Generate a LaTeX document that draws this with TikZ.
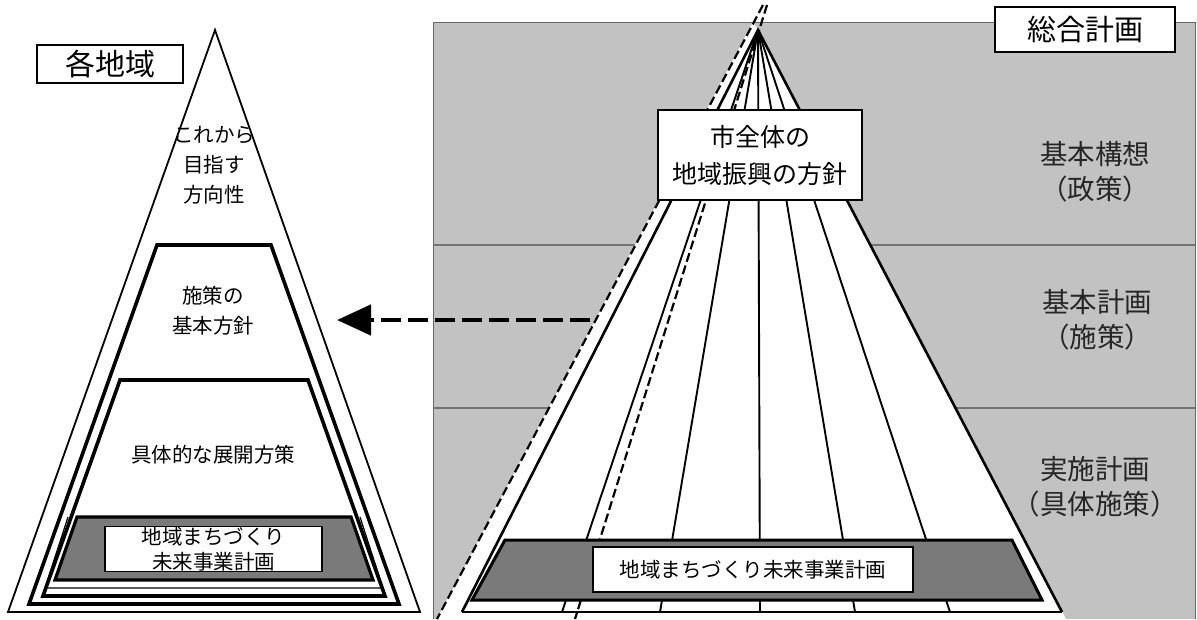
\documentclass[tikz,border=0pt]{standalone}
\usepackage{fontspec}
\setmainfont{Noto Sans CJK JP}
\usetikzlibrary{arrows.meta}
\definecolor{bggray}{gray}{0.76}
\definecolor{darkfill}{gray}{0.48}
\begin{document}
\begin{tikzpicture}[x=1pt,y=-1pt,
  thinedge/.style={line width=1.8pt, line join=miter},
  thickedge/.style={line width=3.6pt, line join=miter},
  fanline/.style={line width=1.9pt},
  dashline/.style={line width=2.2pt, dash pattern=on 9pt off 4pt},
  sepline/.style={line width=1.2pt, black!55},
  titlebox/.style={draw, line width=1.6pt, fill=white, inner sep=0pt},
  pyrtext/.style={align=center, font=\fontsize{20.5}{30}\selectfont},
  sidelabel/.style={align=center, text=black!85, font=\fontsize{27.5}{35}\selectfont},
  arrowline/.style={line width=4.5pt, dash pattern=on 20pt off 7pt, -{Triangle[length=34pt,width=30pt]}}
]
\useasboundingbox (0,0) rectangle (1197,619);

% ---------- right: background ----------
\fill[bggray] (433,22) rectangle (1195,619);
\draw[line width=1pt, black!60] (433,619) -- (433,22) -- (1195,22) -- (1195,619);
\draw[sepline] (433,245) -- (1195,245);
\draw[sepline] (433,408) -- (1195,408);

% key points of the right fan
\coordinate (apexR) at (758,30);
\coordinate (bL) at (462,612);
\coordinate (bR) at (1062,612);
\coordinate (f1) at (562,612);
\coordinate (f2) at (660,612);
\coordinate (f3) at (760,612);
\coordinate (f4) at (855,612);
\coordinate (f5) at (950,612);
\coordinate (dAt) at (763,5);
\coordinate (dAb) at (437,619);
\coordinate (dBt) at (767,5);
\coordinate (dBb) at (575,619);

% white interior
\fill[white] (753,22) -- (dAb) -- (1066,619) -- (apexR) -- cycle;

% fan lines
\foreach \p in {f1,f2,f3,f4,f5} \draw[fanline] (apexR) -- (\p);
\draw[line width=2.6pt, line join=miter] (bL) -- (apexR) -- (bR);
\draw[line width=1.5pt] (bL) -- (bR);
\draw[dashline] (dAt) -- (dAb);
\draw[dashline] (dBt) -- (dBb);

% dark trapezoid (right)
\filldraw[fill=darkfill, draw=black, line width=3pt, line join=miter]
  (505,540) -- (1012,540) -- (1042,600) -- (472,600) -- cycle;
\node[draw, line width=2.4pt, fill=white, minimum width=320pt, minimum height=45pt,
  inner sep=0pt, font=\fontsize{20.5}{24}\selectfont] (planR) at (753,569.5) {地域まちづくり未来事業計画};

% city box
\node[draw, line width=1.8pt, fill=white, minimum width=204pt, minimum height=90pt,
  inner sep=0pt, align=center, font=\fontsize{25}{37}\selectfont] (city) at (760,155) {市全体の\\地域振興の方針};

% right labels
\node[titlebox, minimum width=180pt, minimum height=45pt, font=\fontsize{29}{32}\selectfont] (sogo) at (1085,29.5) {総合計画};
\node[sidelabel] (kousou) at (1095,172) {基本構想\\（政策）};
\node[sidelabel] (keikaku) at (1097,320) {基本計画\\（施策）};
\node[sidelabel] (jisshi) at (1095,487) {実施計画\\（具体施策）};

% ---------- left pyramid ----------
\draw[thinedge] (215,30) -- (8,612) -- (420,612) -- cycle;
\draw[thickedge] (157,245) -- (271,245) -- (399,604) -- (29,604) -- cycle;
\draw[thickedge] (120,380) -- (308,380) -- (385,596) -- (43,596) -- cycle;
\draw[line width=1.2pt, line join=miter] (68,517) -- (45,588) -- (383,588) -- (360,517);
\filldraw[fill=darkfill, draw=black, line width=3.2pt, line join=miter]
  (77,517) -- (351,517) -- (373,580) -- (55,580) -- cycle;
\node[draw, line width=1.6pt, fill=white, minimum width=217pt, minimum height=45pt,
  inner sep=0pt, align=center, font=\fontsize{20.5}{25}\selectfont] (planL) at (213.5,549) {地域まちづくり\\未来事業計画};

\node[titlebox, minimum width=146pt, minimum height=38pt, font=\fontsize{30}{32}\selectfont] (kaku) at (110,64) {各地域};
\node[pyrtext] (kore) at (214,165) {これから\\目指す\\方向性};
\node[pyrtext] (shisaku) at (213,311) {施策の\\基本方針};
\node[pyrtext] (gutai) at (213,455) {具体的な展開方策};

% ---------- arrow ----------
\coordinate (arrS) at (590,320);
\coordinate (arrE) at (337,320);
\draw[arrowline] (arrS) -- (arrE);
\end{tikzpicture}
\end{document}
